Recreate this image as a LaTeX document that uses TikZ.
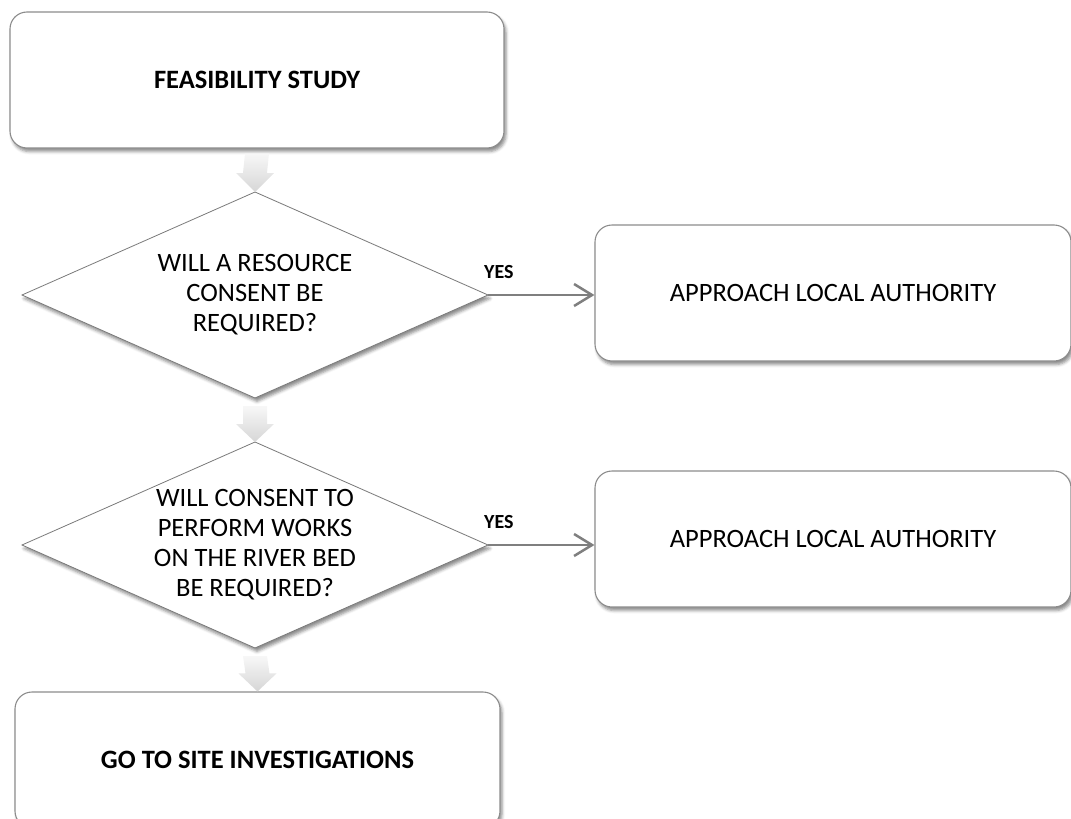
\documentclass[tikz,border=0pt]{standalone}
\usepackage{fontspec}
\setmainfont{Carlito}
\usetikzlibrary{shapes.geometric,shadows.blur,arrows.meta,calc}
\definecolor{edgegray}{HTML}{8C8C8C}
\definecolor{diagray}{HTML}{7A7A7A}
\definecolor{arrowgray}{HTML}{7F7F7F}
\begin{document}
\begin{tikzpicture}[x=1pt,y=-1pt,
  mainfont/.style={font=\fontsize{26.5}{30}\selectfont},
  rbox/.style={draw=edgegray, line width=1.1pt, rounded corners=17pt, fill=white,
    blur shadow={shadow xshift=2pt, shadow yshift=-3.5pt, shadow blur radius=3pt, shadow opacity=45},
    minimum height=136pt, inner sep=0pt, align=center, mainfont},
  decision/.style={diamond, aspect=2.2621, draw=diagray, line width=0.8pt, fill=white,
    blur shadow={shadow xshift=2pt, shadow yshift=-3.5pt, shadow blur radius=3pt, shadow opacity=45},
    minimum width=466pt, minimum height=206pt, inner sep=0pt, outer sep=0pt, align=center, mainfont},
  barrow/.style={top color=gray!6, bottom color=gray!32, draw=none},
  yesarrow/.style={draw=arrowgray, line width=2.5pt, -{Straight Barb[length=18pt,width=22pt,line width=2.5pt]}},
  yeslabel/.style={font=\bfseries\fontsize{20}{22}\selectfont, inner sep=0pt, anchor=west}
]
\useasboundingbox (0,0) rectangle (1071,819);

\node[rbox, minimum width=494pt, font=\bfseries\fontsize{26.5}{30}\selectfont] (fs) at (257,80) {FEASIBILITY STUDY};
\node[decision] (d1) at (255,295) {WILL A RESOURCE\\CONSENT BE\\REQUIRED?};
\node[rbox, minimum width=476pt] (a1) at (833,293) {APPROACH LOCAL AUTHORITY};
\node[decision] (d2) at (255,545) {WILL CONSENT TO\\PERFORM WORKS\\ON THE RIVER BED\\BE REQUIRED?};
\node[rbox, minimum width=476pt] (a2) at (833,539) {APPROACH LOCAL AUTHORITY};
\node[rbox, minimum width=485pt, font=\bfseries\fontsize{26.5}{30}\selectfont] (gs) at (257.5,760) {GO TO SITE INVESTIGATIONS};

% block arrows
\shade[barrow] ($(fs.south)+(-12,5)$) -- ($(fs.south)+(12,5)$) -- ($(d1.north)+(12,-19)$) -- ($(d1.north)+(19,-19)$) -- (d1.north) -- ($(d1.north)+(-19,-19)$) -- ($(d1.north)+(-12,-19)$) -- cycle;
\shade[barrow] ($(d1.south)+(-12,8)$) -- ($(d1.south)+(12,8)$) -- ($(d2.north)+(12,-18)$) -- ($(d2.north)+(19,-18)$) -- (d2.north) -- ($(d2.north)+(-19,-18)$) -- ($(d2.north)+(-12,-18)$) -- cycle;
\shade[barrow] ($(d2.south)+(-12,8)$) -- ($(d2.south)+(12,8)$) -- ($(gs.north)+(12,-18)$) -- ($(gs.north)+(19,-18)$) -- (gs.north) -- ($(gs.north)+(-19,-18)$) -- ($(gs.north)+(-12,-18)$) -- cycle;

% yes arrows
\draw[yesarrow] (d1.east) -- (d1.east -| a1.west);
\draw[yesarrow] (d2.east) -- (d2.east -| a2.west);
\node[yeslabel] (y1) at ($(d1.east)+(-4,-23)$) {YES};
\node[yeslabel] (y2) at ($(d2.east)+(-4,-23)$) {YES};
\end{tikzpicture}
\end{document}
